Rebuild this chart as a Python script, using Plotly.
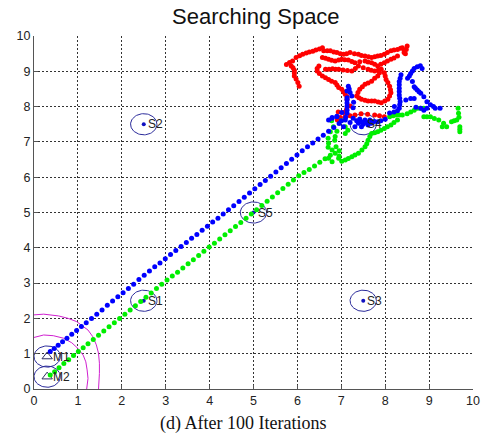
import numpy as np
import plotly.graph_objects as go

# ---------------- data ----------------
sensor_names = ["S1", "S2", "S3", "S4", "S5"]
sensor_x = [2.5, 2.5, 7.5, 7.5, 5.0]
sensor_y = [2.5, 7.5, 2.5, 7.5, 5.0]

mobile_names = ["M1", "M2"]
mobile_x = [0.3, 0.3]
mobile_y = [0.92, 0.35]

node_radius = 0.3

arc_outer_x = [0.0, 0.22, 0.56, 0.78, 0.97, 1.12, 1.23, 1.34, 1.42, 1.47, 1.49, 1.49, 1.47, 1.47]
arc_outer_y = [2.1, 2.12, 2.07, 2.0, 1.91, 1.78, 1.67, 1.48, 1.25, 1.01, 0.73, 0.44, 0.16, 0.0]
arc_inner_x = [0.0, 0.22, 0.44, 0.67, 0.86, 1.0, 1.12, 1.18, 1.21, 1.23, 1.2]
arc_inner_y = [1.46, 1.53, 1.51, 1.44, 1.31, 1.15, 0.96, 0.77, 0.54, 0.3, 0.0]

blue_x = [0.37, 0.46, 0.55, 0.65, 0.75, 0.86, 0.97, 1.08, 1.19, 1.31, 1.43, 1.55, 1.67, 1.79,
          1.91, 2.03, 2.15, 2.27, 2.39, 2.51, 2.63, 2.75, 2.87, 2.99, 3.11, 3.23, 3.35, 3.47,
          3.59, 3.71, 3.83, 3.95, 4.07, 4.19, 4.31, 4.43, 4.55, 4.67, 4.79, 4.91, 5.03, 5.15,
          5.27, 5.39, 5.51, 5.63, 5.75, 5.87, 5.99, 6.11, 6.23, 6.35, 6.47, 6.59, 6.71, 6.83,
          # cluster around S4
          7.16, 7.13, 7.13, 7.24, 7.27, 7.01, 6.9, 6.79, 7.13, 7.13, 7.13, 7.09, 7.05, 6.9,
          6.79, 6.71, 7.46, 7.39, 7.54, 7.61, 7.31, 7.46, 7.69, 7.83, 7.27, 7.35, 7.5, 7.58,
          7.42, 7.2, 7.13, 7.13, 7.1, 7.2, 7.18, 7.0, 6.95, 7.65, 7.75, 7.9, 8.0, 7.28,
          # upper right
          8.36, 8.34, 8.32, 8.32, 8.32, 8.32, 8.32, 8.33, 8.34, 8.33, 8.32, 8.28, 8.2, 8.51,
          8.55, 8.58, 8.62, 8.66, 8.73, 8.8, 8.84, 8.62, 8.66, 8.69, 8.73, 8.77, 8.81, 8.88,
          8.66, 8.58, 8.47, 8.95, 9.03, 9.1, 9.14, 9.25, 8.95, 8.81, 8.88, 8.7, 8.21, 8.1]
blue_y = [1.06, 1.15, 1.24, 1.34, 1.44, 1.55, 1.66, 1.77, 1.88, 2.00, 2.12, 2.24, 2.37, 2.49,
          2.61, 2.73, 2.85, 2.97, 3.10, 3.22, 3.34, 3.46, 3.57, 3.69, 3.81, 3.92, 4.04, 4.15,
          4.27, 4.38, 4.50, 4.61, 4.73, 4.84, 4.96, 5.08, 5.19, 5.31, 5.43, 5.55, 5.67, 5.79,
          5.91, 6.03, 6.15, 6.27, 6.39, 6.51, 6.63, 6.75, 6.86, 6.97, 7.08, 7.19, 7.30, 7.41,
          8.58, 8.44, 8.25, 8.3, 7.97, 7.83, 7.73, 7.69, 8.19, 8.0, 7.81, 7.62, 7.43, 7.71,
          7.67, 7.62, 7.57, 7.53, 7.62, 7.48, 7.43, 7.43, 7.53, 7.57, 7.67, 7.6, 7.5, 7.55,
          7.65, 7.55, 8.1, 7.9, 7.7, 8.4, 8.5, 7.6, 7.52, 7.62, 7.58, 7.6, 7.64, 8.12,
          8.9, 8.8, 8.71, 8.62, 8.52, 8.43, 8.33, 8.24, 8.14, 8.05, 7.95, 7.88, 7.85, 8.8,
          8.87, 8.94, 9.01, 9.08, 9.13, 9.16, 9.08, 8.71, 8.56, 8.52, 8.47, 8.42, 8.38, 8.28,
          8.23, 8.23, 8.19, 8.14, 8.05, 8.0, 7.95, 7.95, 7.95, 7.95, 7.9, 7.98, 8.0, 7.82]

green_x = [0.37, 0.47, 0.57, 0.68, 0.79, 0.90, 1.01, 1.12, 1.23, 1.35, 1.47, 1.59, 1.71, 1.83,
           1.95, 2.07, 2.19, 2.31, 2.43, 2.55, 2.67, 2.79, 2.91, 3.03, 3.15, 3.27, 3.39, 3.51,
           3.63, 3.75, 3.87, 3.99, 4.11, 4.23, 4.35, 4.47, 4.59, 4.71, 4.83, 4.95, 5.07, 5.19,
           5.31, 5.43, 5.55, 5.67, 5.79, 5.91, 6.03, 6.15, 6.27, 6.39, 6.51, 6.63,
           # clump
           6.71, 6.79, 6.86, 6.71, 6.94, 6.79, 6.86, 6.75, 6.82, 6.7, 6.88, 6.95, 6.7, 6.78,
           6.9, 6.85, 6.95, 6.75,
           # branch
           7.01, 7.09, 7.16, 7.24, 7.31, 7.39, 7.47, 7.54, 7.58, 7.61, 7.65, 7.69, 7.76, 7.83,
           7.9, 7.98, 8.05, 8.13, 8.2, 8.28, 7.09, 7.09, 7.15, 7.0,
           # right part
           8.1, 8.18, 8.25, 8.32, 8.39, 8.5, 8.58, 8.66, 8.73, 8.8, 8.88, 8.88, 8.95, 9.03,
           9.12, 9.22, 9.33, 9.4, 9.3, 9.51, 9.57, 9.63, 9.66, 9.67, 9.68, 9.7, 9.7, 9.7]
green_y = [0.40, 0.49, 0.60, 0.72, 0.83, 0.95, 1.06, 1.17, 1.28, 1.40, 1.52, 1.64, 1.76, 1.88,
           2.00, 2.12, 2.24, 2.36, 2.48, 2.60, 2.72, 2.85, 2.97, 3.09, 3.20, 3.31, 3.43, 3.55,
           3.66, 3.78, 3.90, 4.02, 4.13, 4.25, 4.37, 4.48, 4.60, 4.72, 4.84, 4.96, 5.08, 5.20,
           5.32, 5.44, 5.56, 5.68, 5.80, 5.92, 6.04, 6.13, 6.22, 6.32, 6.42, 6.52,
           6.96, 6.77, 6.68, 6.54, 6.54, 6.44, 7.15, 7.29, 7.43, 6.85, 6.86, 6.75, 7.1, 7.6,
           7.3, 7.05, 6.6, 6.62,
           6.45, 6.49, 6.53, 6.58, 6.63, 6.68, 6.77, 6.86, 6.95, 7.05, 7.15, 7.24, 7.26, 7.29,
           7.33, 7.38, 7.43, 7.48, 7.55, 7.62, 7.24, 7.43, 7.33, 7.6,
           7.71, 7.74, 7.76, 7.76, 7.76, 7.8, 7.85, 7.9, 7.95, 7.95, 7.95, 7.71, 7.71, 7.71,
           7.66, 7.62, 7.53, 7.43, 7.43, 7.57, 7.6, 7.62, 7.95, 7.81, 7.7, 7.43, 7.29, 7.36]

red_x = [5.75, 5.82, 5.89, 5.86, 5.9, 5.93, 5.93, 5.93, 5.97, 6.01, 6.04,
         5.97, 6.05, 6.12, 6.2, 6.27, 6.35, 6.42, 6.5, 6.57, 6.6, 6.68, 6.75, 6.83, 6.9, 6.98,
         7.05, 7.12, 7.2, 7.3, 7.39, 7.46, 7.54, 7.62, 7.69, 7.76, 7.83, 7.9, 7.98, 8.05, 8.13,
         8.2, 8.28, 8.35, 8.39, 8.43, 8.43, 8.5, 8.48, 8.46,
         6.57, 6.64, 6.71, 6.78, 6.86, 6.94, 7.01, 7.08, 7.16, 7.24, 7.31, 7.42, 7.54, 7.61,
         7.69, 7.76, 7.83, 7.9, 7.98, 8.05, 8.13, 8.2, 8.28,
         6.49, 6.45, 6.45, 6.5, 6.57, 6.64, 6.71, 6.78, 6.86, 6.9, 6.94, 7.01, 7.05, 7.09,
         7.13, 7.13,
         6.64, 6.72, 6.8, 6.87, 6.94, 7.04, 7.14, 7.24, 7.32, 7.39, 7.5, 7.61, 7.68, 7.76,
         7.84, 7.91,
         7.87, 7.83, 7.76, 7.69, 7.61, 7.54, 7.48, 7.42, 7.38, 7.35, 7.4, 7.46, 7.54, 7.61,
         7.69, 7.76, 7.84, 7.91, 7.99, 8.06, 8.1, 8.13, 8.12, 8.1, 8.06, 8.02, 8.0, 7.98,
         7.2, 7.12, 7.05, 6.98, 7.09, 7.2, 7.31, 7.45, 7.6, 7.76, 7.87, 7.98, 6.91, 6.93]
red_y = [9.19, 9.25, 9.29, 9.15, 9.1, 9.03, 8.95, 8.87, 8.78, 8.68, 8.58,
         9.39, 9.44, 9.48, 9.52, 9.55, 9.57, 9.6, 9.63, 9.67, 9.58, 9.58, 9.58, 9.55, 9.53, 9.5,
         9.48, 9.5, 9.53, 9.5, 9.48, 9.45, 9.43, 9.41, 9.39, 9.41, 9.43, 9.45, 9.48, 9.53, 9.58,
         9.6, 9.62, 9.65, 9.67, 9.6, 9.53, 9.72, 9.62, 9.5,
         9.39, 9.37, 9.34, 9.31, 9.29, 9.32, 9.34, 9.33, 9.32, 9.28, 9.24, 9.27, 9.29, 9.26,
         9.24, 9.2, 9.15, 9.2, 9.24, 9.29, 9.34, 9.38, 9.43,
         9.15, 9.08, 9.01, 8.94, 8.87, 8.82, 8.77, 8.72, 8.68, 8.61, 8.54, 8.49, 8.42, 8.35,
         8.28, 8.21,
         9.06, 9.06, 9.07, 9.06, 9.06, 9.04, 9.02, 9.01, 9.08, 9.15, 9.1, 9.06, 9.03, 9.01,
         9.03, 9.06,
         8.96, 8.87, 8.8, 8.72, 8.67, 8.63, 8.56, 8.49, 8.4, 8.3, 8.25, 8.21, 8.18, 8.16,
         8.16, 8.16, 8.13, 8.11, 8.16, 8.21, 8.3, 8.39, 8.48, 8.58, 8.68, 8.77, 8.87, 8.96,
         8.02, 7.92, 7.83, 7.69, 7.71, 7.74, 7.76, 7.8, 7.78, 7.76, 7.74, 7.71, 7.62, 7.85]

ticks = [0, 1, 2, 3, 4, 5, 6, 7, 8, 9, 10]

# ---------------- figure ----------------
SANS = "Liberation Sans, Arial, sans-serif"
ELL = "#2a2a9a"

fig = go.Figure()

# magenta range arcs
fig.add_trace(go.Scatter(x=arc_outer_x, y=arc_outer_y, mode="lines",
                         line=dict(color="#d020d0", width=1), hoverinfo="skip"))
fig.add_trace(go.Scatter(x=arc_inner_x, y=arc_inner_y, mode="lines",
                         line=dict(color="#d020d0", width=1), hoverinfo="skip"))

# node circles (shape geometry)
t = np.linspace(0, 2 * np.pi, 80)
for cx, cy in list(zip(sensor_x, sensor_y)) + list(zip(mobile_x, mobile_y)):
    fig.add_trace(go.Scatter(x=cx + node_radius * np.cos(t), y=cy + node_radius * np.sin(t),
                             mode="lines", line=dict(color=ELL, width=1), hoverinfo="skip"))

# sensor centre dots
fig.add_trace(go.Scatter(x=sensor_x, y=sensor_y, mode="markers",
                         marker=dict(color="#1010c0", size=4)))
# mobile triangles
fig.add_trace(go.Scatter(x=mobile_x, y=mobile_y, mode="markers",
                         marker=dict(symbol="triangle-up-open", color="#303060", size=9,
                                     line=dict(width=1))))

# trails
fig.add_trace(go.Scatter(x=red_x, y=red_y, mode="markers",
                         marker=dict(color="#ff0000", size=5)))
fig.add_trace(go.Scatter(x=green_x, y=green_y, mode="markers",
                         marker=dict(color="#00ee00", size=5)))
fig.add_trace(go.Scatter(x=blue_x, y=blue_y, mode="markers",
                         marker=dict(color="#0000ff", size=5)))

annotations = []
for name, x, y in zip(sensor_names, sensor_x, sensor_y):
    annotations.append(dict(x=x, y=y, xref="x", yref="y", text=name, showarrow=False,
                            xanchor="left", yanchor="middle", xshift=2,
                            font=dict(family=SANS, size=12, color="#222")))
for name, x, y in zip(mobile_names, mobile_x, mobile_y):
    annotations.append(dict(x=x, y=y, xref="x", yref="y", text=name, showarrow=False,
                            xanchor="left", yanchor="middle", xshift=4,
                            font=dict(family=SANS, size=12, color="#222")))
annotations.append(dict(x=0.475, y=-0.099, xref="paper", yref="paper",
                        text="(d) After 100 Iterations", showarrow=False,
                        xanchor="center", yanchor="middle",
                        font=dict(family="Liberation Serif, Times New Roman, serif",
                                  size=18, color="#111")))

axis_common = dict(range=[0, 10], tickvals=ticks, showgrid=True, griddash="2px,2px",
                   gridcolor="rgba(0,0,0,0.8)", gridwidth=1, zeroline=False,
                   showline=True, linecolor="#555", linewidth=1.2,
                   ticks="inside", ticklen=4, tickcolor="#555",
                   tickfont=dict(family=SANS, size=12.5, color="#222"), fixedrange=True)

fig.update_layout(
    width=492, height=438,
    margin=dict(l=33.5, r=12, t=36, b=49, pad=0),
    paper_bgcolor="white", plot_bgcolor="white",
    showlegend=False,
    title=dict(text="Searching Space", x=0.52, xanchor="center", y=0.962, yanchor="middle",
               font=dict(family=SANS, size=22, color="#111")),
    xaxis=axis_common,
    yaxis=axis_common,
    annotations=annotations,
)

fig.write_html("out.html")
